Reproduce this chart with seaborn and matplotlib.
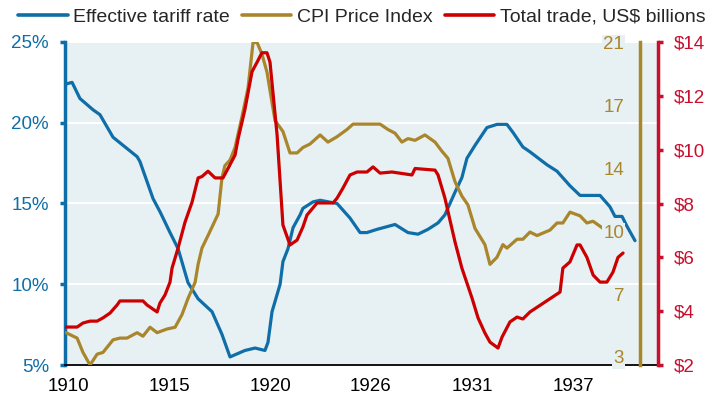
import numpy as np
import pandas as pd
import matplotlib
matplotlib.use("Agg")
import matplotlib.pyplot as plt
import seaborn as sns

# values
tariff_year = [1909.90, 1910.20, 1910.59, 1911.24, 1911.58, 1912.23, 1913.42, 1913.56, 1914.21, 1914.55,
               1915.05, 1915.45, 1915.94, 1916.44, 1917.13, 1917.62, 1918.02, 1918.76, 1919.26, 1919.75,
               1919.90, 1920.10, 1920.50, 1920.64, 1920.89, 1921.14, 1921.49, 1921.63, 1922.13, 1922.48,
               1923.32, 1923.96, 1924.46, 1924.80, 1925.30, 1926.19, 1926.83, 1927.33, 1927.82, 1928.32,
               1928.66, 1929.16, 1929.50, 1929.75, 1930.15, 1930.74, 1931.24, 1931.73, 1932.03, 1932.52,
               1932.87, 1933.71, 1934.21, 1934.85, 1935.35, 1936.34, 1936.83, 1937.08, 1937.43, 1937.67,
               1938.07]
tariff_rate = [22.4, 22.5, 21.5, 20.8, 20.5, 19.1, 17.9, 17.6, 15.3, 14.5,
               13.2, 12.2, 10.1, 9.1, 8.3, 6.9, 5.5, 5.9, 6.05, 5.9,
               6.4, 8.3, 10.0, 11.4, 12.2, 13.5, 14.3, 14.7, 15.1, 15.2,
               15.0, 14.1, 13.2, 13.2, 13.4, 13.7, 13.2, 13.1, 13.4, 13.8,
               14.3, 15.7, 16.6, 17.8, 18.6, 19.7, 19.9, 19.9, 19.4, 18.5,
               18.2, 17.4, 17.0, 16.1, 15.5, 15.5, 14.8, 14.2, 14.2, 13.6,
               12.7]

cpi_year = [1909.90, 1910.45, 1910.74, 1911.09, 1911.44, 1911.73, 1912.23, 1912.57, 1912.92, 1913.42,
            1913.71, 1914.06, 1914.41, 1914.90, 1915.30, 1915.64, 1915.94, 1916.29, 1916.44, 1916.63,
            1916.93, 1917.43, 1917.62, 1917.77, 1918.02, 1918.27, 1918.61, 1918.91, 1919.16, 1919.36,
            1919.60, 1919.85, 1920.10, 1920.25, 1920.64, 1920.99, 1921.34, 1921.63, 1921.98, 1922.48,
            1922.87, 1923.32, 1923.81, 1924.11, 1925.45, 1925.84, 1926.19, 1926.53, 1926.83, 1927.18,
            1927.67, 1928.17, 1928.51, 1928.81, 1929.16, 1929.50, 1929.80, 1930.15, 1930.64, 1930.89,
            1931.24, 1931.53, 1931.73, 1932.23, 1932.52, 1932.87, 1933.22, 1933.86, 1934.21, 1934.50,
            1934.85, 1935.35, 1935.69, 1935.99, 1936.49, 1936.83]
cpi_value = [4.39, 4.08, 3.26, 2.54, 3.16, 3.26, 3.98, 4.08, 4.08, 4.39,
             4.19, 4.70, 4.39, 4.60, 4.70, 5.42, 6.35, 7.27, 8.30, 9.23,
             9.95, 11.18, 13.24, 13.96, 14.27, 14.99, 16.74, 18.38, 21.0, 21.0,
             20.34, 19.31, 17.56, 16.53, 15.91, 14.68, 14.68, 14.99, 15.19, 15.71,
             15.30, 15.61, 16.02, 16.33, 16.33, 16.02, 15.81, 15.30, 15.50, 15.40,
             15.71, 15.30, 14.78, 14.37, 13.03, 12.21, 11.70, 10.36, 9.43, 8.30,
             8.71, 9.43, 9.23, 9.74, 9.74, 10.15, 9.95, 10.26, 10.67, 10.67,
             11.29, 11.08, 10.67, 10.77, 10.36, 10.05]

trade_year = [1909.90, 1910.45, 1910.74, 1911.09, 1911.44, 1911.73, 1912.08, 1912.43, 1912.57, 1913.71,
              1913.91, 1914.41, 1914.55, 1914.80, 1915.05, 1915.15, 1915.45, 1915.79, 1916.14, 1916.44,
              1916.63, 1916.93, 1917.28, 1917.67, 1917.92, 1918.27, 1918.42, 1918.76, 1919.11, 1919.36,
              1919.60, 1919.85, 1920.00, 1920.35, 1920.64, 1920.99, 1921.34, 1921.63, 1921.83, 1922.33,
              1923.12, 1923.32, 1923.61, 1923.96, 1924.31, 1924.80, 1925.10, 1925.45, 1926.04, 1927.03,
              1927.18, 1928.17, 1928.32, 1928.66, 1929.16, 1929.50, 1930.00, 1930.30, 1930.64, 1930.89,
              1931.29, 1931.49, 1931.88, 1932.23, 1932.52, 1932.87, 1934.36, 1934.50, 1934.85, 1935.20,
              1935.35, 1935.69, 1936.00, 1936.34, 1936.68, 1936.98, 1937.23, 1937.48]
trade_value = [3.41, 3.41, 3.56, 3.63, 3.63, 3.75, 3.93, 4.23, 4.38, 4.38,
               4.23, 3.97, 4.3, 4.6, 5.08, 5.6, 6.35, 7.3, 8.05, 8.95,
               9.0, 9.2, 8.95, 8.95, 9.3, 9.8, 10.4, 11.5, 12.9, 13.25,
               13.6, 13.6, 13.25, 10.55, 7.2, 6.46, 6.64, 7.13, 7.57, 8.02,
               8.02, 8.2, 8.57, 9.06, 9.17, 9.17, 9.36, 9.13, 9.17, 9.06,
               9.3, 9.24, 9.06, 8.2, 6.57, 5.6, 4.49, 3.75, 3.19, 2.85,
               2.63, 3.04, 3.6, 3.78, 3.71, 3.97, 4.71, 5.6, 5.83, 6.46,
               6.46, 6.0, 5.34, 5.08, 5.08, 5.45, 6.0, 6.16]

x_ticks = [1910, 1915, 1920, 1925, 1930, 1935]
x_labels = ["1910", "1915", "1920", "1926", "1931", "1937"]
tariff_ticks = [5, 10, 15, 20, 25]
cpi_ticks = [3, 6.6, 10.2, 13.8, 17.4, 21]
cpi_labels = ["3", "7", "10", "14", "17", "21"]
trade_ticks = [2, 4, 6, 8, 10, 12, 14]

BLUE = "#0f6ea8"
GOLD = "#a9862b"
RED = "#cc0000"
CRIMSON = "#c8102e"
BG = "#e7f0f3"

sns.set_style("white")
plt.rcParams["font.family"] = ["Liberation Sans", "DejaVu Sans"]
FS = 13.5

tariff = pd.DataFrame({"year": tariff_year, "rate": tariff_rate})
cpi = pd.DataFrame({"year": cpi_year, "cpi": cpi_value})
trade = pd.DataFrame({"year": trade_year, "trade": trade_value})

fig = plt.figure(figsize=(7.08, 4.0), dpi=100)
ax = fig.add_axes([65 / 708, 35 / 400, 593 / 708, 323 / 400])
ax.set_facecolor(BG)

sns.lineplot(data=tariff, x="year", y="rate", ax=ax, color=BLUE, lw=2.3,
             estimator=None, sort=False, label="Effective tariff rate", legend=False)
ax.set_xlim(1909.85, 1939.21)
ax.set_ylim(5, 25)
ax.set_xticks(x_ticks)
ax.set_xticklabels(x_labels)
ax.set_yticks(tariff_ticks)
ax.set_yticklabels([f"{t}%" for t in tariff_ticks])
ax.set_xlabel("")
ax.set_ylabel("")
ax.set_axisbelow(True)
ax.yaxis.grid(True, color="white", lw=1.5)
ax.xaxis.grid(False)
for s in ["top", "right"]:
    ax.spines[s].set_visible(False)
ax.spines["left"].set_color(BLUE)
ax.spines["left"].set_linewidth(2.5)
ax.spines["bottom"].set_color("black")
ax.spines["bottom"].set_linewidth(1.3)
ax.tick_params(axis="y", colors=BLUE, labelsize=FS, length=3.5, width=2.5, direction="out", pad=8)
ax.tick_params(axis="x", colors="black", labelsize=FS, length=4.5, width=1.2, direction="out", pad=5)

# CPI axis, spine inside the frame with labels on its left
ax2 = ax.twinx()
sns.lineplot(data=cpi, x="year", y="cpi", ax=ax2, color=GOLD, lw=2.3,
             estimator=None, sort=False, label="CPI Price Index", legend=False)
ax2.set_ylim(2.54, 21.03)
ax2.set_yticks(cpi_ticks)
ax2.set_yticklabels(cpi_labels)
ax2.set_ylabel("")
for s in ["top", "left", "bottom"]:
    ax2.spines[s].set_visible(False)
ax2.spines["right"].set_position(("axes", 575 / 593))
ax2.spines["right"].set_color(GOLD)
ax2.spines["right"].set_linewidth(2.5)
ax2.tick_params(axis="y", colors=GOLD, labelsize=FS, length=0, pad=-11.5)
plt.setp(ax2.get_yticklabels(), ha="right",
         bbox=dict(facecolor=BG, edgecolor="none", pad=1.0))
ax2.yaxis.set_zorder(5)

# trade axis on the far right
ax3 = ax.twinx()
sns.lineplot(data=trade, x="year", y="trade", ax=ax3, color=RED, lw=2.3,
             estimator=None, sort=False, label="Total trade, US$ billions", legend=False)
ax3.set_ylim(2, 14)
ax3.set_yticks(trade_ticks)
ax3.set_yticklabels([f"${t}" for t in trade_ticks])
ax3.set_ylabel("")
for s in ["top", "left", "bottom"]:
    ax3.spines[s].set_visible(False)
ax3.spines["right"].set_color(CRIMSON)
ax3.spines["right"].set_linewidth(2.5)
ax3.tick_params(axis="y", colors=CRIMSON, labelsize=FS, length=3.5, width=2.5, direction="out", pad=8)

handles = [ax.lines[0], ax2.lines[0], ax3.lines[0]]
labels = ["Effective tariff rate", "CPI Price Index", "Total trade, US$ billions"]
leg = fig.legend(handles, labels, loc="center left", bbox_to_anchor=(18 / 708, 1 - 17 / 400),
                 ncol=3, frameon=False, fontsize=14, handlelength=2.55, handletextpad=0.28,
                 columnspacing=0.62, borderpad=0, borderaxespad=0)
for line in leg.get_lines():
    line.set_linewidth(2.6)

fig.savefig("out.png", dpi=100)
